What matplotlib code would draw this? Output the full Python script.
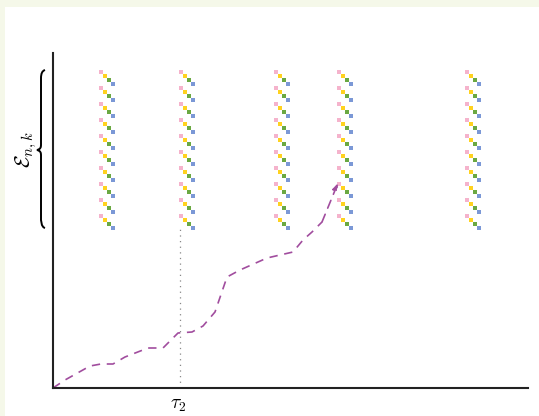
import matplotlib
matplotlib.use("Agg")
import matplotlib.pyplot as plt
from matplotlib.path import Path
from matplotlib.patches import PathPatch, Rectangle
import numpy as np

plt.rcParams['mathtext.fontset'] = 'cm'

# ---- data ----
column_x = [48, 128, 223, 286, 414]          # event times (x)
group_top_y = [316, 300, 284, 268, 252, 236, 220, 204, 188, 172]  # stacked groups
square_colors = ['#f5b3cc', '#ffd21f', '#6aa842', '#7b98d6']
tau2_x = 127
tau2_top = 160
path_x = [0, 12, 37, 48, 60, 72, 95, 110, 125, 139, 150, 162, 174, 187, 214, 240, 250, 259, 269, 285]
path_y = [0, 8, 22, 24, 24, 31, 40, 40, 55, 56, 62, 76, 111, 118, 130, 136, 148, 156, 166, 205]

W, H = 539, 416
fig = plt.figure(figsize=(W / 100, H / 100), dpi=100, facecolor='white')
# cream border bands
fig.patches.append(Rectangle((0, 1 - 7 / H), 1, 7 / H, transform=fig.transFigure,
                             facecolor='#f5f8e9', edgecolor='none', zorder=0))
fig.patches.append(Rectangle((0, 0), 5 / W, 1, transform=fig.transFigure,
                             facecolor='#f5f8e9', edgecolor='none', zorder=0))

ax = fig.add_axes([53 / W, (H - 388) / H, (528 - 53) / W, (388 - 53) / H])
ax.set_xlim(0, 475)
ax.set_ylim(0, 335)
ax.set_facecolor('white')
for s in ['top', 'right']:
    ax.spines[s].set_visible(False)
for s in ['left', 'bottom']:
    ax.spines[s].set_linewidth(1.5)
    ax.spines[s].set_color('#222222')
ax.set_xticks([])
ax.set_yticks([])

# stacked squares
for cx in column_x:
    for gy in group_top_y:
        for i, c in enumerate(square_colors):
            ax.scatter(cx + 4 * i, gy - 4 * i, s=10, marker='s', color=c,
                       edgecolors='none', zorder=3)

# dotted vertical at tau_2
ax.plot([tau2_x, tau2_x], [0, tau2_top], linestyle=(0, (1, 3.5)), color='#888888',
        linewidth=0.9)

# dashed path with arrowhead
pc = '#a14d9e'
ax.plot(path_x[:-1], path_y[:-1], linestyle=(0, (5, 4)), color=pc, linewidth=1.2)
ax.annotate('', xy=(path_x[-1], path_y[-1]), xytext=(path_x[-2], path_y[-2]),
            arrowprops=dict(arrowstyle='-|>,head_length=0.4,head_width=0.15', color=pc,
                            linewidth=1.2, linestyle=(0, (5, 4)), shrinkA=0, shrinkB=0))

# tau_2 label
ax.text(tau2_x - 2, -7, r'$\tau_2$', ha='center', va='top', fontsize=14, clip_on=False)

# curly brace on the left
xr, xm, xt = -8, -12, -16
yt, ym, yb = 318, 238, 160
verts = [(xr, yt), (xm, yt - 1), (xm, yt - 8), (xm, yt - 10),
         (xm, ym + 6), (xm, ym + 3), (xm, ym + 1), (xt, ym),
         (xm, ym - 1), (xm, ym - 3), (xm, ym - 6),
         (xm, yb + 10), (xm, yb + 8), (xm, yb + 1), (xr, yb)]
codes = [Path.MOVETO, Path.CURVE3, Path.CURVE3, Path.LINETO,
         Path.LINETO, Path.CURVE4, Path.CURVE4, Path.CURVE4,
         Path.CURVE4, Path.CURVE4, Path.CURVE4,
         Path.LINETO, Path.CURVE4, Path.CURVE4, Path.CURVE4]
ax.add_patch(PathPatch(Path(verts, codes), facecolor='none', edgecolor='black',
                       linewidth=1.4, clip_on=False))
ax.text(-27, ym, r'$\mathcal{E}_{n,k}$', rotation=90, ha='center', va='center',
        fontsize=15, clip_on=False)

fig.savefig('out.png', dpi=100, facecolor=fig.get_facecolor())
